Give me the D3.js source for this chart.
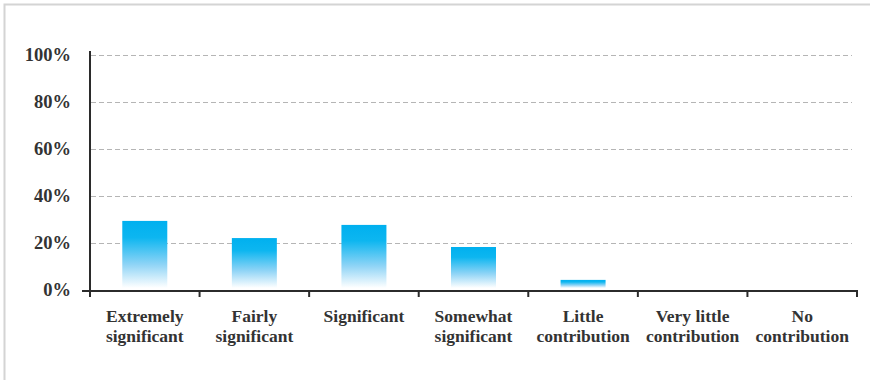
<!DOCTYPE html>
<html>
<head>
<meta charset="utf-8">
<script src="https://cdn.jsdelivr.net/npm/d3@7"></script>
<style>
  html, body { margin: 0; padding: 0; background: #fff; }
  svg { display: block; }
</style>
</head>
<body>
<svg id="chart" width="871" height="380"></svg>
<script>
// Share of respondents per contribution rating
const categories = [
  ["Extremely", "significant"],
  ["Fairly", "significant"],
  ["Significant"],
  ["Somewhat", "significant"],
  ["Little", "contribution"],
  ["Very little", "contribution"],
  ["No", "contribution"]
];
const values = [29.4, 22.1, 27.7, 18.3, 4.3, 0, 0];
const yTicks = [0, 20, 40, 60, 80, 100];

const svg = d3.select("#chart");
const fontFamily = "'Liberation Serif', 'DejaVu Serif', serif";

// outer frame (top and left edges visible)
svg.append("path")
  .attr("d", "M4.5,380 L4.5,4.5 L870,4.5")
  .attr("fill", "none")
  .attr("stroke", "#d4d4d4")
  .attr("stroke-width", 2);

const plotLeft = 90, plotRight = 857, plotTop = 55, plotBottom = 290;

const x = d3.scaleBand()
  .domain(d3.range(categories.length))
  .range([plotLeft, plotRight])
  .paddingInner(0)
  .paddingOuter(0);

const y = d3.scaleLinear().domain([0, 100]).range([plotBottom, plotTop]);

// gradient for bars: saturated blue on top fading to white
const defs = svg.append("defs");
const grad = defs.append("linearGradient")
  .attr("id", "barGrad")
  .attr("x1", 0).attr("y1", 0).attr("x2", 0).attr("y2", 1);
grad.append("stop").attr("offset", "0%").attr("stop-color", "#00b0ef");
grad.append("stop").attr("offset", "25%").attr("stop-color", "#0db6f0");
grad.append("stop").attr("offset", "65%").attr("stop-color", "#8fd4f6");
grad.append("stop").attr("offset", "100%").attr("stop-color", "#ffffff");

// dashed gridlines
svg.append("g")
  .selectAll("line")
  .data(yTicks.filter(d => d > 0))
  .join("line")
  .attr("x1", plotLeft + 1)
  .attr("x2", 852)
  .attr("y1", d => Math.round(y(d)) + 0.5)
  .attr("y2", d => Math.round(y(d)) + 0.5)
  .attr("stroke", "#b5b5b5")
  .attr("stroke-width", 1)
  .attr("stroke-dasharray", "5,3");

// bars
const barW = 45;
svg.append("g")
  .selectAll("rect")
  .data(values)
  .join("rect")
  .attr("x", (d, i) => x(i) + (x.bandwidth() - barW) / 2)
  .attr("y", d => y(d))
  .attr("width", barW)
  .attr("height", d => Math.max(0, y(0) - y(d) - 2))
  .attr("fill", "url(#barGrad)");

// y axis
const yAxis = d3.axisLeft(y)
  .tickValues(yTicks)
  .tickFormat(d => d + "%")
  .tickSize(0)
  .tickPadding(19);
const gy = svg.append("g")
  .attr("transform", `translate(${plotLeft},0)`)
  .call(yAxis);
gy.select(".domain")
  .attr("d", `M0,${plotTop - 4}V${plotBottom}`)
  .attr("stroke", "#2b2b2b")
  .attr("stroke-width", 2);
gy.selectAll("text")
  .attr("font-family", fontFamily)
  .attr("font-size", 18.5)
  .attr("font-weight", "bold")
  .attr("fill", "#333");

// x axis with ticks at band boundaries
const gx = svg.append("g");
gx.append("line")
  .attr("x1", 82).attr("x2", plotRight + 1)
  .attr("y1", plotBottom + 1).attr("y2", plotBottom + 1)
  .attr("stroke", "#2b2b2b")
  .attr("stroke-width", 2);
const boundaries = d3.range(categories.length + 1).map(i => i < categories.length ? x(i) : x(i - 1) + x.bandwidth());
gx.selectAll("line.tick")
  .data(boundaries)
  .join("line")
  .attr("class", "tick")
  .attr("x1", d => d).attr("x2", d => d)
  .attr("y1", plotBottom).attr("y2", plotBottom + 7)
  .attr("stroke", "#2b2b2b")
  .attr("stroke-width", 2);

// category labels
const labels = svg.append("g")
  .selectAll("text")
  .data(categories)
  .join("text")
  .attr("x", (d, i) => x(i) + x.bandwidth() / 2)
  .attr("y", 322)
  .attr("text-anchor", "middle")
  .attr("font-family", fontFamily)
  .attr("font-size", 17.5)
  .attr("font-weight", "bold")
  .attr("fill", "#333");
labels.selectAll("tspan")
  .data(d => d)
  .join("tspan")
  .attr("x", function () { return d3.select(this.parentNode).attr("x"); })
  .attr("dy", (d, i) => i === 0 ? 0 : 20)
  .text(d => d);
</script>
</body>
</html>
